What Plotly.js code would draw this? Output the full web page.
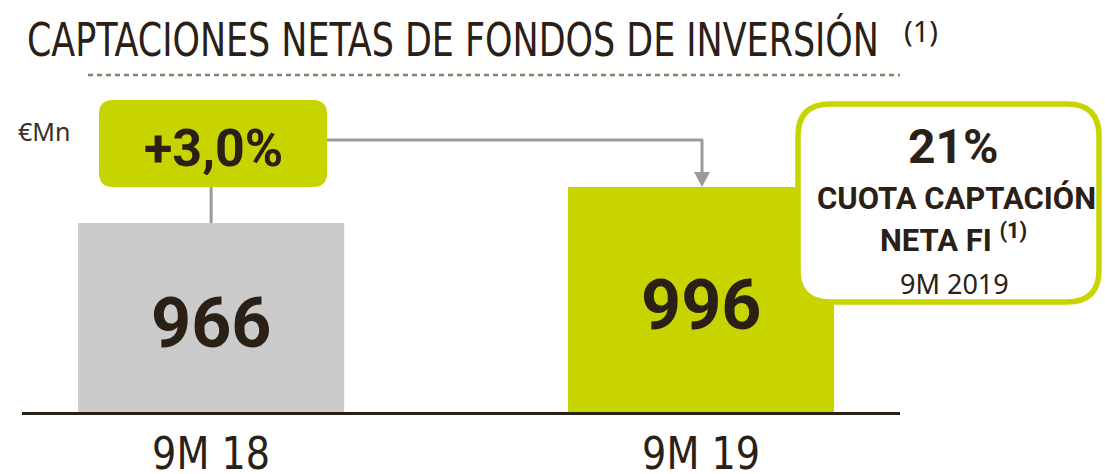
<!DOCTYPE html>
<html>
<head>
<meta charset="utf-8">
<script src="https://cdn.plot.ly/plotly-3.0.1.min.js"></script>
<style>
  html, body { margin: 0; padding: 0; background: #ffffff; }
  #chart { width: 1105px; height: 474px; }
</style>
</head>
<body>
<div id="chart"></div>
<script>
// ---- data ----
const categories = ['9M 18', '9M 19'];
const values = [966, 996];
const barColors = ['#cbcbcb', '#c8d400'];
const growthLabel = '+3,0%';
const unitLabel = '€Mn';
const titleText = 'CAPTACIONES NETAS DE FONDOS DE INVERSIÓN';
const titleNote = '(1)';
const shareValue = '21%';
const shareLines = ['CUOTA CAPTACIÓN', 'NETA FI'];
const sharePeriod = '9M 2019';

// ---- layout geometry (pixels) ----
const W = 1105, H = 474;
const M = {l: 22, r: 205, t: 95, b: 62};
const PW = W - M.l - M.r, PH = H - M.t - M.b;
const Y_MIN = 808.5, PX_PER_UNIT = 1.2;
const px = x => (x - M.l) / PW;             // pixel x -> paper
const py = y => (H - M.b - y) / PH;         // pixel y -> paper

const DARK = '#2b2016';
const LIME = '#c8d400';
const GREY = '#9a9a9a';
const NARROW = 'DejaVu Sans Condensed, Liberation Sans, Arial, sans-serif';
const SANS = 'Roboto, Noto Sans, sans-serif';

function roundRect(x0, y0, x1, y1, r) {
  const P = (x, y) => px(x) + ',' + py(y);
  return 'M' + P(x0 + r, y0) + ' L' + P(x1 - r, y0) + ' Q' + P(x1, y0) + ' ' + P(x1, y0 + r) +
         ' L' + P(x1, y1 - r) + ' Q' + P(x1, y1) + ' ' + P(x1 - r, y1) +
         ' L' + P(x0 + r, y1) + ' Q' + P(x0, y1) + ' ' + P(x0, y1 - r) +
         ' L' + P(x0, y0 + r) + ' Q' + P(x0, y0) + ' ' + P(x0 + r, y0) + ' Z';
}

const trace = {
  type: 'bar',
  x: categories,
  y: values,
  width: 0.543,
  marker: {color: barColors, line: {width: 0}},
  textposition: 'none',
  hoverinfo: 'skip'
};

const shapes = [
  // dotted rule under title
  {type: 'line', xref: 'paper', yref: 'paper', x0: px(88), x1: px(900), y0: py(75), y1: py(75),
   line: {color: '#8c7d69', width: 2.5, dash: '5px,4px'}},
  // growth box
  {type: 'path', xref: 'paper', yref: 'paper', path: roundRect(99, 100, 327, 187, 14),
   fillcolor: LIME, line: {width: 0}},
  // vertical connector from growth box to first bar
  {type: 'line', xref: 'x', yref: 'y', x0: 0, x1: 0, y0: values[0], y1: values[0] + (223 - 187) / PX_PER_UNIT,
   line: {color: GREY, width: 3}},
  // horizontal connector
  {type: 'line', xref: 'paper', yref: 'paper', x0: px(327), x1: px(703), y0: py(140), y1: py(140),
   line: {color: GREY, width: 3}},
  {type: 'line', xref: 'paper', yref: 'paper', x0: px(702), x1: px(702), y0: py(140), y1: py(174),
   line: {color: GREY, width: 3}},
  // arrow head
  {type: 'path', xref: 'paper', yref: 'paper',
   path: 'M' + px(694) + ',' + py(172) + ' L' + px(710) + ',' + py(172) + ' L' + px(702) + ',' + py(187) + ' Z',
   fillcolor: GREY, line: {width: 0}},
  // share box
  {type: 'path', xref: 'paper', yref: 'paper', path: roundRect(798, 104, 1099, 302, 32),
   fillcolor: '#ffffff', line: {color: LIME, width: 5.5}}
];

const annotations = [
  {xref: 'paper', yref: 'paper', x: px(453), y: py(40), xanchor: 'center', yanchor: 'middle', showarrow: false,
   text: titleText, font: {family: NARROW, size: 46, color: DARK}},
  {xref: 'paper', yref: 'paper', x: px(902), y: py(31), xanchor: 'left', yanchor: 'middle', showarrow: false,
   text: titleNote, font: {family: 'Noto Sans, sans-serif', size: 29, color: DARK}},
  {xref: 'paper', yref: 'paper', x: px(16), y: py(131), xanchor: 'left', yanchor: 'middle', showarrow: false,
   text: unitLabel, font: {family: 'Noto Sans, sans-serif', size: 25, color: '#3a2e25'}},
  {xref: 'paper', yref: 'paper', x: px(213), y: py(148), xanchor: 'center', yanchor: 'middle', showarrow: false,
   text: '<b>' + growthLabel + '</b>', font: {family: SANS, size: 52, color: DARK}},
  {xref: 'paper', yref: 'paper', x: px(953), y: py(146), xanchor: 'center', yanchor: 'middle', showarrow: false,
   text: '<b>' + shareValue + '</b>', font: {family: SANS, size: 48, color: DARK}},
  {xref: 'paper', yref: 'paper', x: px(956), y: py(198), xanchor: 'center', yanchor: 'middle', showarrow: false,
   text: '<b>' + shareLines[0] + '</b>', font: {family: SANS, size: 31, color: DARK}},
  {xref: 'paper', yref: 'paper', x: px(953), y: py(238), xanchor: 'center', yanchor: 'middle', showarrow: false,
   text: '<b>' + shareLines[1] + ' <sup>' + titleNote + '</sup></b>', font: {family: SANS, size: 31, color: DARK}},
  {xref: 'paper', yref: 'paper', x: px(954), y: py(283), xanchor: 'center', yanchor: 'middle', showarrow: false,
   text: sharePeriod, font: {family: 'Noto Sans, sans-serif', size: 27, color: DARK}}
];

// value labels inside the bars (centered on the visible part of each bar)
categories.forEach((c, i) => {
  annotations.push({
    xref: 'x', yref: 'y', x: c, y: (Y_MIN + values[i]) / 2, yshift: -5,
    xanchor: 'center', yanchor: 'middle', showarrow: false,
    text: '<b>' + values[i] + '</b>', font: {family: SANS, size: 70, color: DARK}
  });
});

const layout = {
  width: W, height: H,
  margin: M,
  paper_bgcolor: '#ffffff', plot_bgcolor: '#ffffff',
  showlegend: false,
  xaxis: {
    type: 'category', range: [-0.386, 1.406],
    showline: true, linecolor: DARK, linewidth: 3,
    showgrid: false, zeroline: false, ticks: '',
    tickfont: {family: NARROW, size: 45, color: DARK},
    fixedrange: true
  },
  yaxis: {
    range: [Y_MIN, Y_MIN + PH / PX_PER_UNIT],
    visible: false, showgrid: false, zeroline: false, fixedrange: true
  },
  shapes: shapes,
  annotations: annotations
};

Plotly.newPlot('chart', [trace], layout, {displayModeBar: false, staticPlot: true}).then(gd => {
  // condense the title and category labels to the reference's narrow type
  const fit = (el, len) => {
    el.setAttribute('textLength', len);
    el.setAttribute('lengthAdjust', 'spacingAndGlyphs');
  };
  gd.querySelectorAll('.annotation-text').forEach(t => {
    if (t.textContent === titleText) fit(t, 852);
  });
  gd.querySelectorAll('.xtick text').forEach(t => fit(t, 118));
});
</script>
</body>
</html>
